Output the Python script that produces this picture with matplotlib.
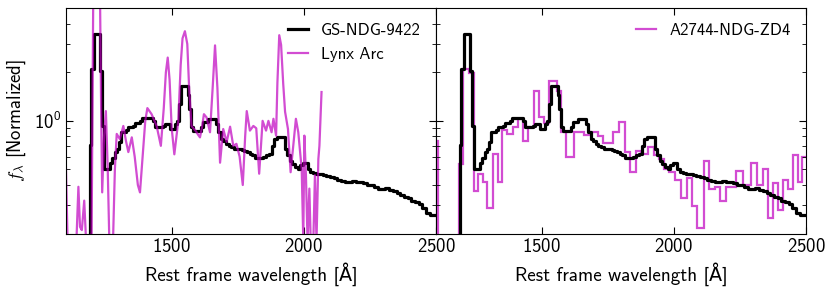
import matplotlib
matplotlib.use("Agg")
import matplotlib.pyplot as plt
from matplotlib.ticker import NullFormatter

plt.rcParams['font.family'] = ['cmss10', 'DejaVu Sans']
plt.rcParams['mathtext.fontset'] = 'cm'
plt.rcParams['axes.unicode_minus'] = False
plt.rcParams['axes.formatter.use_mathtext'] = True

# GS-NDG-9422 (binned, bin centres in A)
black_wave = [1186, 1193, 1199, 1210, 1222, 1233, 1240, 1248, 1260, 1271, 1280, 1288,
              1297, 1305, 1313, 1322, 1331, 1340, 1349, 1357, 1366, 1376, 1385, 1394,
              1404, 1414, 1424, 1433, 1442, 1452, 1462, 1472, 1481, 1490, 1499, 1508,
              1516, 1523, 1529, 1538, 1548, 1557, 1563, 1570, 1578, 1586, 1596, 1606,
              1615, 1624, 1634, 1644, 1654, 1664, 1672, 1680, 1690, 1700, 1710, 1720,
              1730, 1740, 1750, 1760, 1770, 1780, 1790, 1800, 1810, 1820, 1830, 1840,
              1850, 1862, 1874, 1884, 1892, 1902, 1914, 1924, 1932, 1941, 1952, 1962,
              1972, 1982, 1992, 2002, 2010, 2018, 2028, 2040, 2052, 2064, 2078, 2092,
              2106, 2120, 2134, 2148, 2162, 2176, 2190, 2204, 2218, 2232, 2246, 2260,
              2274, 2288, 2302, 2316, 2330, 2344, 2358, 2372, 2386, 2400, 2414, 2428,
              2442, 2456, 2470, 2484, 2498]
black_flux = [0.10, 0.71, 2.10, 3.45, 3.45, 2.05, 0.93, 0.50, 0.50, 0.55, 0.59, 0.64,
              0.67, 0.74, 0.85, 0.85, 0.88, 0.91, 0.91, 0.935, 0.97, 0.97, 1.00, 1.04,
              1.04, 1.04, 1.04, 1.00, 0.91, 0.91, 0.91, 0.93, 0.95, 0.95, 0.89, 0.89,
              0.95, 1.00, 1.28, 1.65, 1.65, 1.65, 1.44, 1.19, 0.91, 0.87, 0.87, 0.87,
              0.92, 0.98, 0.98, 1.02, 1.02, 1.02, 0.95, 0.85, 0.77, 0.75, 0.72, 0.70,
              0.69, 0.67, 0.67, 0.67, 0.66, 0.65, 0.64, 0.62, 0.61, 0.59, 0.59, 0.59,
              0.60, 0.61, 0.62, 0.70, 0.77, 0.79, 0.79, 0.79, 0.67, 0.61, 0.56, 0.54,
              0.52, 0.50, 0.53, 0.55, 0.55, 0.50, 0.48, 0.475, 0.47, 0.465, 0.46, 0.455,
              0.45, 0.44, 0.43, 0.425, 0.42, 0.42, 0.425, 0.42, 0.415, 0.41, 0.40, 0.40,
              0.39, 0.38, 0.38, 0.385, 0.375, 0.365, 0.355, 0.345, 0.335, 0.33, 0.32, 0.315,
              0.305, 0.29, 0.27, 0.26, 0.26]

# Lynx Arc (smoothed)
lynx_wave = [1098, 1106, 1140, 1147, 1153, 1160, 1169, 1176, 1197, 1203, 1210, 1222,
             1229, 1233, 1237, 1244, 1251, 1258, 1264, 1278, 1285, 1292, 1304, 1317,
             1327, 1336, 1349, 1360, 1372, 1380, 1390, 1400, 1408, 1424, 1443, 1459,
             1470, 1478, 1485, 1492, 1500, 1510, 1525, 1534, 1541, 1550, 1559, 1566,
             1575, 1590, 1600, 1607, 1614, 1622, 1632, 1645, 1655, 1664, 1673, 1683,
             1695, 1708, 1721, 1733, 1745, 1757, 1769, 1778, 1784, 1796, 1809, 1820,
             1831, 1844, 1857, 1866, 1878, 1885, 1895, 1900, 1907, 1914, 1922, 1929,
             1940, 1950, 1960, 1970, 1979, 1992, 1998, 2002, 2008, 2014, 2021, 2026,
             2036, 2042, 2048, 2055, 2059, 2067]
lynx_flux = [0.70, 0.18, 0.19, 0.39, 0.22, 0.21, 0.32, 0.18, 0.20, 5.5, 9.0, 9.0,
             5.5, 1.2, 0.36, 0.80, 1.15, 0.50, 0.18, 0.18, 0.50, 0.83, 0.77, 0.93,
             0.75, 0.64, 0.79, 0.60, 0.40, 0.36, 0.60, 1.00, 1.20, 1.10, 0.93, 0.70,
             1.20, 2.00, 2.47, 1.80, 0.90, 0.62, 1.00, 2.22, 3.25, 3.60, 3.00, 1.60,
             0.93, 0.87, 0.82, 0.79, 0.90, 1.10, 1.05, 0.85, 1.60, 2.94, 1.60, 0.55,
             0.89, 0.74, 0.92, 0.70, 0.72, 0.60, 0.40, 0.80, 1.15, 0.87, 0.93, 0.90,
             0.47, 1.00, 0.87, 1.00, 0.85, 1.03, 0.81, 1.72, 3.40, 2.96, 1.70, 1.14,
             0.89, 0.48, 0.70, 1.03, 0.85, 0.50, 0.18, 0.81, 0.46, 0.18, 0.38, 0.18,
             0.18, 0.46, 0.18, 0.58, 0.70, 1.51]

# A2744-NDG-ZD4 (bin edges in A)
zd4_edges = [1095, 1106, 1188, 1203, 1226, 1243, 1258, 1277, 1293, 1314, 1333, 1350,
             1369, 1390, 1409, 1428, 1449, 1470, 1491, 1510, 1529, 1558, 1573, 1592,
             1621, 1661, 1684, 1712, 1731, 1769, 1794, 1815, 1834, 1857, 1876, 1901,
             1926, 1945, 1964, 1983, 2006, 2027, 2050, 2067, 2088, 2115, 2134, 2156,
             2176, 2197, 2235, 2260, 2292, 2315, 2336, 2355, 2374, 2393, 2412, 2431,
             2450, 2469, 2487, 2506]
zd4_flux = [0.75, 0.05, 0.54, 2.11, 1.97, 0.365, 0.47, 0.42, 0.29, 0.62, 0.42, 0.88,
            0.83, 0.91, 1.02, 0.75, 0.91, 1.53, 1.06, 0.97, 1.78, 1.54, 0.85, 0.60,
            0.85, 0.82, 0.85, 0.80, 0.73, 0.85, 0.98, 0.64, 0.48, 0.65, 0.62, 0.685,
            0.61, 0.58, 0.50, 0.48, 0.43, 0.33, 0.44, 0.295, 0.216, 0.565, 0.376, 0.39,
            0.317, 0.39, 0.49, 0.40, 0.55, 0.40, 0.50, 0.25, 0.41, 0.28, 0.43, 0.38,
            0.61, 0.42, 0.60]

fig, axes = plt.subplots(1, 2, figsize=(8.3, 2.93), dpi=100, sharey=True)
fig.subplots_adjust(left=0.0795, right=0.971, top=0.972, bottom=0.203, wspace=0)

ax1, ax2 = axes
ax1.step(black_wave, black_flux, where='mid', color='k', lw=2.3, label='GS-NDG-9422')
ax1.plot(lynx_wave, lynx_flux, color='m', alpha=0.7, lw=1.6,
         solid_joinstyle='round', label='Lynx Arc')

ax2.step(black_wave, black_flux, where='mid', color='k', lw=2.3)
ax2.stairs(zd4_flux, zd4_edges, baseline=None, color='m', alpha=0.7, lw=1.6,
           label='A2744-NDG-ZD4')

for ax in axes:
    ax.set_yscale('log')
    ax.set_xlim(1100, 2500)
    ax.set_ylim(0.2, 5)
    ax.set_xticks([1500, 2000, 2500])
    ax.yaxis.set_minor_formatter(NullFormatter())
    ax.tick_params(which='both', direction='in', top=True, right=True, labelsize=13.5)
    ax.tick_params(which='major', length=5)
    ax.tick_params(which='minor', length=3)
    ax.set_xlabel('Rest frame wavelength [Å]', fontsize=13.8)
    ax.legend(loc='upper right', frameon=False, fontsize=12, handlelength=1.2)

ax1.set_ylabel(r'$f_\lambda$ [Normalized]', fontsize=13.5)

fig.savefig('out.png', dpi=100)
